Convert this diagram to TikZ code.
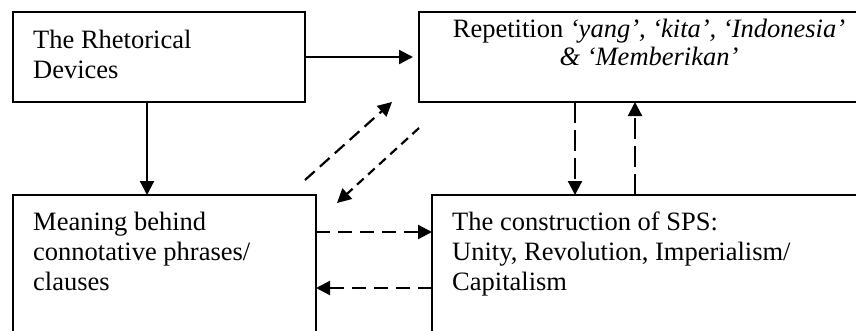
\documentclass[tikz,border=0pt]{standalone}
\usepackage{fontspec}
\setmainfont{Liberation Serif}
\usetikzlibrary{arrows.meta}
\begin{document}
\begin{tikzpicture}[x=1pt,y=-1pt,
  box/.style={draw,line width=2.2pt,inner sep=0pt,outer sep=0pt,anchor=north west},
  txt/.style={anchor=base west,inner sep=0pt,font=\fontsize{26.5}{30}\selectfont,align=left},
  tip/.style={-{Triangle[length=14pt,width=14pt]}},
  solidarrow/.style={line width=2.2pt,tip},
  dasharrow/.style={line width=2.2pt,tip,dash pattern=on 14pt off 8pt},
  vdasharrow/.style={line width=2.2pt,tip,dash pattern=on 21pt off 7pt},
  ddasharrow/.style={line width=2.2pt,tip,dash pattern=on 13pt off 7pt},
  sdasharrow/.style={line width=2.2pt,tip,dash pattern=on 9pt off 6pt}]
\useasboundingbox (0,0) rectangle (856,330);
\clip (0,0) rectangle (856,330);
\fill[white] (0,0) rectangle (856,330);
% boxes
\node[box,minimum width=292pt,minimum height=90pt] (b1) at (13,12) {};
\node[box,minimum width=481pt,minimum height=90pt] (b2) at (419,12) {};
\node[box,minimum width=303pt,minimum height=165pt] (b3) at (13,195) {};
\node[box,minimum width=468pt,minimum height=165pt] (b4) at (432,195) {};
% texts (base anchor = baseline of last line)
\node[txt] (t1) at (33,78) {The Rhetorical\\Devices};
\node[anchor=base,inner sep=0pt,font=\fontsize{26.5}{28}\selectfont,align=center] (t2) at (649,65)
  {Repetition \textit{‘yang’, ‘kita’, ‘Indonesia’}\\\textit{\& ‘Memberikan’}};
\node[txt] (t3) at (33,290) {Meaning behind\\connotative phrases/\\clauses};
\node[txt] (t4) at (452,290) {The construction of SPS:\\Unity, Revolution, Imperialism/\\Capitalism};
% anchor points on box edges
\coordinate (s1) at ([xshift=134pt]b1.south west);
\coordinate (v1) at ([xshift=156pt]b2.south west);
\coordinate (v2) at ([xshift=216pt]b2.south west);
\coordinate (h1) at ([yshift=-37pt]b3.north east);
\coordinate (h2) at ([yshift=-93pt]b3.north east);
\coordinate (d1s) at ([shift={(-11pt,15pt)}]b3.north east);
\coordinate (d1e) at ([xshift=-27pt]b2.south west);
\coordinate (d2s) at ([yshift=-26pt]b2.south west);
\coordinate (d2e) at ([shift={(21pt,-8pt)}]b3.north east);
% solid arrows
\draw[solidarrow,shorten >=6pt] (b1.east) -- (b2.west |- b1.east);
\draw[solidarrow] (s1) -- (s1 |- b3.north);
% vertical dashed
\draw[vdasharrow] (v1) -- (v1 |- b4.north);
\draw[vdasharrow] (v2 |- b4.north) -- (v2);
% horizontal dashed
\draw[dasharrow] (h1) -- (b4.west |- h1);
\draw[dasharrow] (b4.west |- h2) -- (h2);
% diagonal dashed
\draw[ddasharrow] (d1s) -- (d1e);
\draw[sdasharrow] (d2s) -- (d2e);
\end{tikzpicture}
\end{document}
